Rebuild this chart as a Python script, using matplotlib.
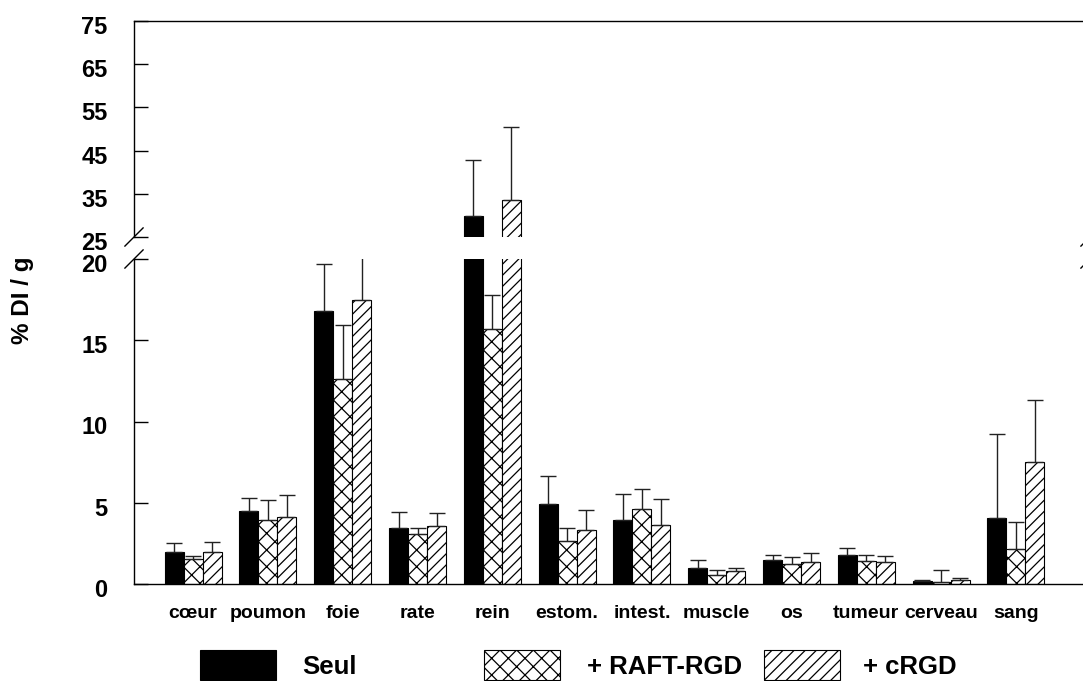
import matplotlib
matplotlib.use("Agg")
import matplotlib.pyplot as plt
import matplotlib.transforms as mtransforms
import numpy as np
from matplotlib.patches import Rectangle

plt.rcParams["font.family"] = ["Liberation Sans", "DejaVu Sans"]
plt.rcParams["font.weight"] = "bold"
plt.rcParams["hatch.linewidth"] = 0.9

# organ uptake, % DI / g (mean and upper SD)
categories = ["cœur", "poumon", "foie", "rate", "rein", "estom.", "intest.",
              "muscle", "os", "tumeur", "cerveau", "sang"]
seul = [1.95, 4.49, 16.8, 3.47, 29.9, 4.93, 3.96, 1.00, 1.50, 1.79, 0.20, 4.06]
seul_err = [0.57, 0.81, 2.90, 0.98, 13.0, 1.72, 1.60, 0.46, 0.31, 0.45, 0.02, 5.18]
raft = [1.52, 3.94, 12.6, 3.06, 15.7, 2.63, 4.62, 0.53, 1.21, 1.40, 0.10, 2.16]
raft_err = [0.20, 1.23, 3.35, 0.39, 2.10, 0.82, 1.25, 0.31, 0.47, 0.41, 0.74, 1.64]
crgd = [1.99, 4.10, 17.5, 3.55, 33.6, 3.30, 3.63, 0.78, 1.33, 1.33, 0.23, 7.49]
crgd_err = [0.60, 1.36, 4.50, 0.84, 16.8, 1.24, 1.58, 0.20, 0.56, 0.42, 0.12, 3.84]

series = [
    ("Seul", seul, seul_err, "black", ""),
    ("+ RAFT-RGD", raft, raft_err, "white", "xx"),
    ("+ cRGD", crgd, crgd_err, "white", "///"),
]

W, H = 1083, 681
fig = plt.figure(figsize=(W / 100, H / 100), dpi=100)

left, right = 134, 1090
ax_top = fig.add_axes([left / W, (H - 237) / H, (right - left) / W, 216 / H])
ax_bot = fig.add_axes([left / W, (H - 584) / H, (right - left) / W, 325 / H])

x = np.arange(len(categories))
width = 0.254
for ax in (ax_top, ax_bot):
    for i, (name, vals, errs, fc, hatch) in enumerate(series):
        ax.bar(x + (i - 1) * width, vals, width,
               yerr=[np.zeros(len(errs)), errs],
               color=fc, edgecolor="black", linewidth=0.8, hatch=hatch,
               error_kw=dict(ecolor="#222222", elinewidth=1.0,
                             capsize=5.8, capthick=1.0))
    ax.set_xlim(-0.79, 11.99)
    ax.spines["right"].set_visible(False)
    ax.tick_params(axis="y", direction="in", length=10, width=1.0,
                   pad=19, labelsize=17)
    for s in ax.spines.values():
        s.set_linewidth(1.0)

ax_top.set_ylim(25, 75)
ax_top.set_yticks(np.arange(25, 76, 10))
ax_top.spines["bottom"].set_visible(False)
ax_top.set_xticks([])

ax_bot.set_ylim(0, 20)
ax_bot.set_yticks([0, 5, 10, 15, 20])
ax_bot.spines["top"].set_visible(False)
ax_bot.set_xticks(x)
ax_bot.set_xticklabels(categories, fontsize=14)
ax_bot.tick_params(axis="x", length=0, pad=15)

# y labels sit a few pixels below their ticks in the original
shift = mtransforms.ScaledTranslation(0, -4 / 100, fig.dpi_scale_trans)
for ax in (ax_top, ax_bot):
    for lab in ax.get_yticklabels():
        lab.set_transform(lab.get_transform() + shift)

# break marks
d = 0.0095
for ax, yb, h_px in ((ax_top, 0.0, 216), (ax_bot, 1.0, 325)):
    dy = d * (right - left) / h_px
    for xb in (0.0, 1.0):
        ax.plot([xb - d, xb + d], [yb - dy, yb + dy], transform=ax.transAxes,
                color="black", lw=1.0, clip_on=False)

fig.text(22 / W, 1 - 300 / H, "% DI / g", rotation=90, fontsize=17.5,
         ha="center", va="center")

# legend drawn by hand to keep the original spacing
leg_patch_x = [200, 484, 764]
leg_text_x = [302, 587, 863]
for (name, vals, errs, fc, hatch), px, tx in zip(series, leg_patch_x, leg_text_x):
    fig.add_artist(Rectangle((px / W, 1 / H), 76 / W, 30 / H,
                             transform=fig.transFigure, facecolor=fc,
                             edgecolor="black", linewidth=0.8, hatch=hatch))
    fig.text(tx / W, 1 - 667 / H, name, fontsize=18.5, ha="left", va="center")

fig.savefig("out.png", dpi=100)
